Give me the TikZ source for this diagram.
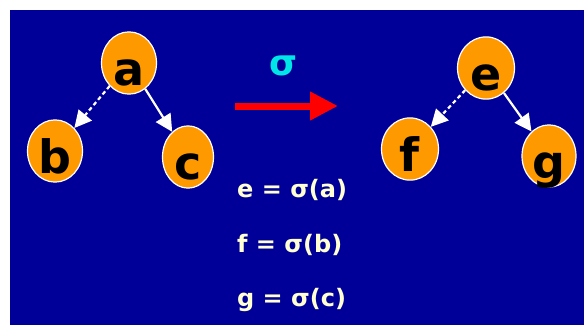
\documentclass[tikz,border=0pt]{standalone}
\usepackage{fontspec}
\setmainfont{DejaVu Sans}
\usetikzlibrary{arrows.meta,shapes.geometric}
\definecolor{bgblue}{RGB}{0,0,153}
\definecolor{nodeorange}{RGB}{255,153,0}
\definecolor{sigcyan}{RGB}{0,230,230}
\definecolor{cream}{RGB}{255,255,210}
\definecolor{arrred}{RGB}{255,0,0}
\tikzset{
  treenode/.style={ellipse, draw=white, line width=1.2pt, fill=nodeorange,
    inner sep=0pt, text=black, font=\fontsize{46}{46}\selectfont\bfseries,
    text height=44pt, text depth=0pt},
  edge/.style={draw=white, line width=2.2pt, -{Triangle[length=17pt,width=17pt]}},
  dashedge/.style={edge, dash pattern=on 4pt off 3pt},
  eqn/.style={text=cream, font=\fontsize{24}{24}\selectfont\bfseries, anchor=west, inner sep=0pt}
}
\begin{document}
\begin{tikzpicture}[x=1pt,y=-1pt]
\useasboundingbox (0,0) rectangle (584,325);
\fill[bgblue] (10,10) rectangle (584,325);
% left tree
\node[treenode, minimum width=55pt, minimum height=60pt] (a) at (129,63) {a};
\node[treenode, minimum width=55pt, minimum height=60pt] (b) at (55,151) {b};
\node[treenode, minimum width=51pt, minimum height=60pt] (c) at (188,157) {c};
\draw[dashedge] (a) -- (b);
\draw[edge] (a) -- (c);
% right tree
\node[treenode, minimum width=57pt, minimum height=57pt] (e) at (486,68) {e};
\node[treenode, minimum width=57pt, minimum height=56pt] (f) at (410,149) {f};
\node[treenode, minimum width=54pt, minimum height=60pt] (g) at (549,156) {g};
\draw[dashedge] (e) -- (f);
\draw[edge] (e) -- (g);
% sigma arrow
\node[text=sigcyan, font=\fontsize{36}{36}\selectfont\bfseries, inner sep=0pt] (sig) at (284,66) {σ};
\coordinate (r1) at (235,106);
\coordinate (r2) at (338,106);
\draw[arrred, line width=7pt, -{Triangle[length=28pt,width=27pt]}] (r1) -- (r2);
% equations
\node[eqn] (eq1) at (237,190) {e = σ(a)};
\node[eqn] (eq2) at (237,245) {f = σ(b)};
\node[eqn] (eq3) at (237,300) {g = σ(c)};
\end{tikzpicture}
\end{document}
